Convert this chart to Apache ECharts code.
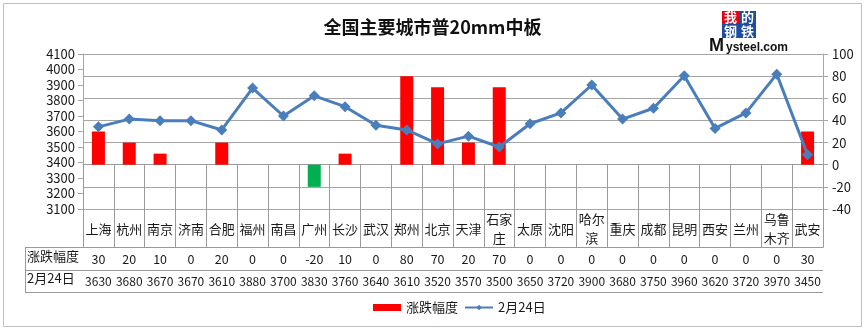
<!DOCTYPE html>
<html>
<head>
<meta charset="utf-8">
<script src="https://cdn.jsdelivr.net/npm/echarts@6/dist/echarts.min.js"></script>
<style>
  html, body { margin: 0; padding: 0; background: #ffffff; }
  #chart { width: 865px; height: 330px; }
</style>
</head>
<body>
<div id="chart"></div>
<script>
// City categories (line breaks match the table cells)
const cities = ['上海', '杭州', '南京', '济南', '合肥', '福州', '南昌', '广州', '长沙', '武汉', '郑州', '北京',
  '天津', '石家\n庄', '太原', '沈阳', '哈尔\n滨', '重庆', '成都', '昆明', '西安', '兰州', '乌鲁\n木齐', '武安'];
// Day-on-day change (right axis, bars)
const changes = [30, 20, 10, 0, 20, 0, 0, -20, 10, 0, 80, 70, 20, 70, 0, 0, 0, 0, 0, 0, 0, 0, 0, 30];
// Price on 24 Feb (left axis, line)
const prices = [3630, 3680, 3670, 3670, 3610, 3880, 3700, 3830, 3760, 3640, 3610, 3520, 3570, 3500,
  3650, 3720, 3900, 3680, 3750, 3960, 3620, 3720, 3970, 3450];
// Axis ranges
const priceAxis = { min: 3100, max: 4100, interval: 100 };
const changeAxis = { min: -40, max: 100, interval: 20 };

const changeName = '涨跌幅度';
const priceName = '2月24日';

const FONT = '"Noto Sans CJK SC", "Liberation Sans", sans-serif';
const GRID_GRAY = '#a6a6a6';
const TABLE_GRAY = '#9a9a9a';
const TEXT = '#1a1a1a';
const UP = '#ff0000';
const DOWN = '#00b050';
const LINE = '#4a7ebb';

const chart = echarts.init(document.getElementById('chart'), null, { renderer: 'canvas' });

// Plot area edges in pixels
const G = { left: 83, right: 823, top: 54, bottom: 209 };
const tableRows = [247, 270, 292];

const option = {
  backgroundColor: '#ffffff',
  animation: false,
  textStyle: { fontFamily: FONT, color: TEXT },
  title: {
    text: '全国主要城市普20mm中板',
    left: 'center',
    top: 13,
    textStyle: { fontFamily: FONT, fontSize: 18, fontWeight: 'bold', color: '#111' }
  },
  legend: {
    top: 296,
    left: 368,
    itemWidth: 28,
    itemHeight: 7,
    itemGap: 6,
    textStyle: { fontFamily: FONT, fontSize: 13, color: TEXT },
    data: [
      { name: changeName, icon: 'rect', itemStyle: { color: UP } },
      { name: priceName }
    ]
  },
  grid: {
    left: G.left, top: G.top, width: G.right - G.left, height: G.bottom - G.top,
    containLabel: false
  },
  xAxis: [
    {
      type: 'category',
      data: cities,
      position: 'bottom',
      axisLine: { show: true, lineStyle: { color: TABLE_GRAY, width: 1 } },
      axisTick: { show: true, length: tableRows[2] - G.bottom, lineStyle: { color: TABLE_GRAY } },
      axisLabel: {
        interval: 0, margin: 20, verticalAlign: 'middle', lineHeight: 19,
        fontSize: 13, color: TEXT, fontFamily: FONT
      }
    },
    {
      type: 'category',
      data: cities,
      position: 'bottom',
      offset: tableRows[0] - G.bottom,
      axisLine: { show: false },
      axisTick: { show: false },
      axisLabel: {
        interval: 0, margin: 12, verticalAlign: 'middle',
        fontSize: 12.5, color: TEXT, fontFamily: FONT,
        formatter: (v, i) => String(changes[i])
      }
    },
    {
      type: 'category',
      data: cities,
      position: 'bottom',
      offset: tableRows[1] - G.bottom,
      axisLine: { show: false },
      axisTick: { show: false },
      axisLabel: {
        interval: 0, margin: 11, verticalAlign: 'middle',
        fontSize: 12, color: TEXT, fontFamily: FONT,
        formatter: (v, i) => String(prices[i])
      }
    }
  ],
  yAxis: [
    {
      type: 'value',
      position: 'left',
      min: priceAxis.min, max: priceAxis.max, interval: priceAxis.interval,
      axisLine: { show: true, lineStyle: { color: GRID_GRAY } },
      axisTick: { show: true, length: 5, lineStyle: { color: GRID_GRAY } },
      splitLine: { show: false },
      axisLabel: { margin: 8, fontSize: 13, color: TEXT, fontFamily: FONT, formatter: v => String(v) }
    },
    {
      type: 'value',
      position: 'right',
      min: changeAxis.min, max: changeAxis.max, interval: changeAxis.interval,
      axisLine: { show: true, lineStyle: { color: GRID_GRAY } },
      axisTick: { show: true, length: 5, lineStyle: { color: GRID_GRAY } },
      splitLine: { show: true, lineStyle: { color: GRID_GRAY, width: 1 } },
      axisLabel: { margin: 9, fontSize: 13, color: TEXT, fontFamily: FONT, formatter: v => String(v) }
    }
  ],
  series: [
    {
      name: changeName,
      type: 'bar',
      xAxisIndex: 0,
      yAxisIndex: 1,
      barWidth: 13,
      data: changes.map(v => ({ value: v, itemStyle: { color: v < 0 ? DOWN : UP } })),
      itemStyle: { color: UP },
      z: 2
    },
    {
      name: priceName,
      type: 'line',
      xAxisIndex: 0,
      yAxisIndex: 0,
      data: prices,
      symbol: 'diamond',
      symbolSize: 11,
      lineStyle: { color: LINE, width: 3 },
      itemStyle: { color: LINE },
      z: 3
    }
  ],
  graphic: [
    // chart frame
    { type: 'rect', shape: { x: 3.5, y: 3.5, width: 858, height: 323 },
      style: { fill: null, stroke: '#bfbfbf', lineWidth: 1 }, z: -10 },
    // data table: left header column and row rules
    { type: 'line', shape: { x1: 25, y1: tableRows[0] + 0.5, x2: G.right, y2: tableRows[0] + 0.5 },
      style: { stroke: TABLE_GRAY, lineWidth: 1 } },
    { type: 'line', shape: { x1: 25, y1: tableRows[1] + 0.5, x2: G.right, y2: tableRows[1] + 0.5 },
      style: { stroke: TABLE_GRAY, lineWidth: 1 } },
    { type: 'line', shape: { x1: 25, y1: tableRows[2] + 0.5, x2: G.right, y2: tableRows[2] + 0.5 },
      style: { stroke: TABLE_GRAY, lineWidth: 1 } },
    { type: 'line', shape: { x1: 25.5, y1: tableRows[0], x2: 25.5, y2: tableRows[2] + 1 },
      style: { stroke: TABLE_GRAY, lineWidth: 1 } },
    { type: 'text', left: 27, top: 250,
      style: { text: changeName, fontSize: 13, fontFamily: FONT, fill: TEXT } },
    { type: 'text', left: 27, top: 272,
      style: { text: priceName, fontSize: 13, fontFamily: FONT, fill: TEXT } },
    // Mysteel logo
    {
      type: 'group', left: 709, top: 11,
      children: [
        { type: 'rect', shape: { x: 13, y: 0, width: 17, height: 13 }, style: { fill: '#e60012' } },
        { type: 'rect', shape: { x: 30, y: 0, width: 17, height: 13 }, style: { fill: '#1d4d9c' } },
        { type: 'rect', shape: { x: 13, y: 13, width: 17, height: 14 }, style: { fill: '#1d4d9c' } },
        { type: 'rect', shape: { x: 30, y: 13, width: 17, height: 14 }, style: { fill: '#1d4d9c' } },
        { type: 'text', x: 21.5, y: 6.5, style: { text: '我', fill: '#fff', fontSize: 13, fontWeight: 'bold', fontFamily: FONT, align: 'center', verticalAlign: 'middle' } },
        { type: 'text', x: 38.5, y: 6.5, style: { text: '的', fill: '#fff', fontSize: 13, fontWeight: 'bold', fontFamily: FONT, align: 'center', verticalAlign: 'middle' } },
        { type: 'text', x: 21.5, y: 20, style: { text: '钢', fill: '#fff', fontSize: 13, fontWeight: 'bold', fontFamily: FONT, align: 'center', verticalAlign: 'middle' } },
        { type: 'text', x: 38.5, y: 20, style: { text: '铁', fill: '#fff', fontSize: 13, fontWeight: 'bold', fontFamily: FONT, align: 'center', verticalAlign: 'middle' } },
        { type: 'text', x: 0, y: 26, style: { text: 'M', fill: '#111', fontSize: 18, fontWeight: 'bold', fontFamily: '"Liberation Sans", sans-serif' } },
        { type: 'text', x: 17, y: 31, style: { text: 'ysteel.com', fill: '#111', fontSize: 12, fontWeight: 'bold', fontFamily: '"Liberation Sans", sans-serif' } }
      ]
    }
  ]
};

chart.setOption(option);
</script>
</body>
</html>
